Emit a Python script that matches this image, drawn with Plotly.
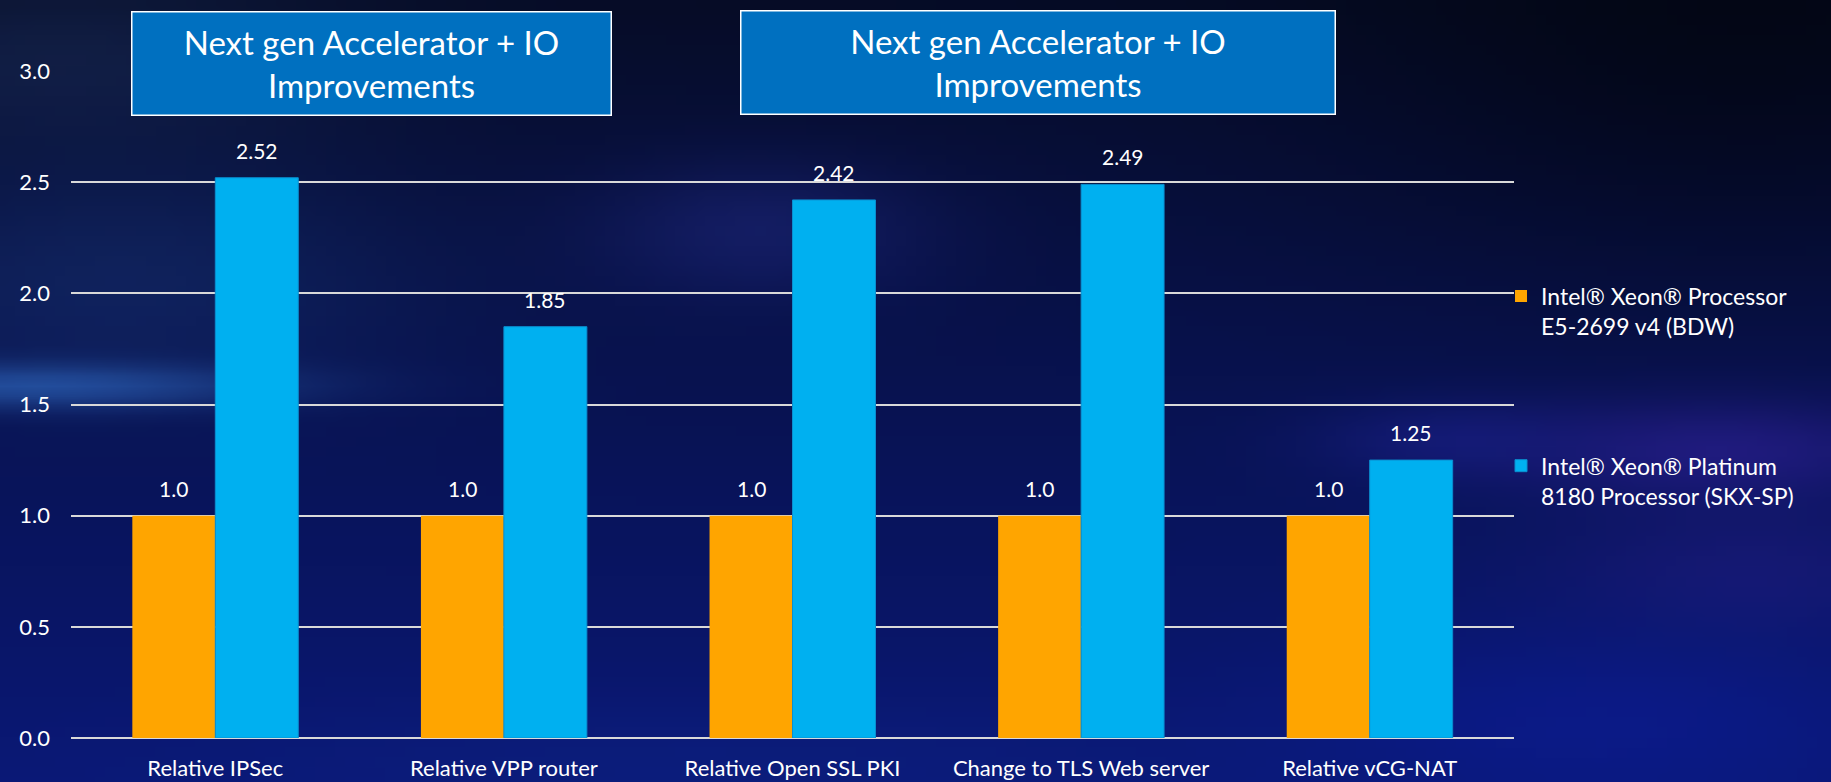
import base64
import struct
import zlib

import numpy as np
import plotly.graph_objects as go

# ---- data ----------------------------------------------------------------
categories = [
    "Relative IPSec",
    "Relative VPP router",
    "Relative Open SSL PKI",
    "Change to TLS Web server",
    "Relative vCG-NAT",
]
bdw_values = [1.0, 1.0, 1.0, 1.0, 1.0]
skx_values = [2.52, 1.85, 2.42, 2.49, 1.25]
series_names = [
    "Intel® Xeon® Processor<br>E5-2699 v4 (BDW)",
    "Intel® Xeon® Platinum<br>8180 Processor (SKX-SP)",
]
y_ticks = [0.0, 0.5, 1.0, 1.5, 2.0, 2.5, 3.0]
y_tick_text = ["0.0", "0.5", "1.0", "1.5", "2.0", "2.5", "3.0"]
banner_text = "Next gen Accelerator + IO<br>Improvements"

# ---- styling -------------------------------------------------------------
W, H = 1831, 782
M_L, M_R, M_T, M_B = 71, 317, 71, 44
PLOT_W = W - M_L - M_R
PLOT_H = H - M_T - M_B
FONT = "Lato"
ORANGE = "#FFA500"
BLUE = "#00B0F0"
BANNER = "#0070C0"
GRID = "#d9d9d9"
BARGAP = 0.425


def png_uri(rgb):
    """Encode an (h, w, 3) uint8 array as a PNG data URI."""
    h, w, _ = rgb.shape
    raw = b"".join(b"\x00" + rgb[r].tobytes() for r in range(h))

    def chunk(tag, data):
        body = tag + data
        return struct.pack(">I", len(data)) + body + struct.pack(">I", zlib.crc32(body) & 0xFFFFFFFF)

    png = b"\x89PNG\r\n\x1a\n"
    png += chunk(b"IHDR", struct.pack(">IIBBBBB", w, h, 8, 2, 0, 0, 0))
    png += chunk(b"IDAT", zlib.compress(raw, 9))
    png += chunk(b"IEND", b"")
    return "data:image/png;base64," + base64.b64encode(png).decode()


def backdrop():
    """Soft dark-blue slide backdrop with a few hazy glows."""
    gw, gh = 183, 78
    xs = (np.arange(gw) + 0.5) / gw * W
    ys = (np.arange(gh) + 0.5) / gh * H
    X, Y = np.meshgrid(xs, ys)
    t = (Y / H)[..., None]
    top = np.array([6, 12, 38], float)
    bottom = np.array([10, 24, 118], float)
    img = top + (bottom - top) * t ** 0.9
    # darker upper-right corner
    img *= (1 - 0.45 * np.exp(-(((X - 1750) / 420) ** 2 + ((Y - 40) / 230) ** 2)))[..., None]

    def glow(cx, cy, sx, sy, col, amp):
        g = amp * np.exp(-(((X - cx) / sx) ** 2 + ((Y - cy) / sy) ** 2))
        return g[..., None] * (np.array(col, float) - img)

    img += glow(40, 385, 230, 22, (50, 110, 200), 0.7)
    img += glow(120, 280, 300, 120, (25, 55, 120), 0.45)
    img += glow(60, 60, 300, 90, (30, 50, 95), 0.45)
    img += glow(760, 230, 170, 70, (35, 45, 140), 0.45)
    img += glow(1720, 450, 200, 50, (55, 35, 165), 0.5)
    img += glow(1450, 440, 140, 40, (30, 35, 150), 0.45)
    img += glow(1750, 570, 200, 70, (40, 30, 140), 0.4)
    img += glow(1600, 720, 300, 90, (12, 28, 150), 0.6)
    img += glow(700, 760, 500, 60, (14, 34, 130), 0.5)
    return np.clip(img, 0, 255).astype(np.uint8)


fig = go.Figure()
fig.add_trace(go.Bar(
    x=categories, y=bdw_values, name=series_names[0], legendgroup="bdw",
    marker=dict(color=ORANGE, line=dict(width=0)),
))
fig.add_trace(go.Bar(
    x=categories, y=skx_values, name=series_names[1], legendgroup="skx",
    marker=dict(color=BLUE, line=dict(width=1, color="#0a8fd0")),
))

# value labels above each bar, centred on the grouped bar positions
bar_w = (1 - BARGAP) / 2
annotations = []
for series, off in ((bdw_values, -bar_w / 2), (skx_values, bar_w / 2)):
    for i, v in enumerate(series):
        annotations.append(dict(
            x=i + off, y=v, xref="x", yref="y", text=str(v), showarrow=False,
            xanchor="center", yanchor="bottom", yshift=13,
            font=dict(family=FONT, size=21, color="white"),
        ))

# the two banner boxes above the chart
for cx, bw, cy in ((371, 478, 64), (1037.5, 593, 62.5)):
    annotations.append(dict(
        x=(cx - M_L) / PLOT_W, y=(H - M_B - cy) / PLOT_H, xref="paper", yref="paper",
        text=banner_text, showarrow=False, xanchor="center", yanchor="middle",
        width=bw, height=102, align="center", valign="middle",
        bgcolor=BANNER, bordercolor="white", borderwidth=1.5, borderpad=0,
        font=dict(family=FONT, size=33, color="white"),
    ))

fig.update_layout(
    width=W, height=H,
    margin=dict(l=M_L, r=M_R, t=M_T, b=M_B, pad=0, autoexpand=False),
    paper_bgcolor="#07103a",
    plot_bgcolor="rgba(0,0,0,0)",
    barmode="group", bargap=BARGAP, bargroupgap=0,
    font=dict(family=FONT, size=22, color="white"),
    annotations=annotations,
    images=[dict(
        source=png_uri(backdrop()), xref="paper", yref="paper",
        x=-M_L / PLOT_W, y=1 + M_T / PLOT_H, sizex=W / PLOT_W, sizey=H / PLOT_H,
        xanchor="left", yanchor="top", sizing="stretch", layer="below",
    )],
    legend=dict(
        x=0.991, xanchor="left", y=0.695, yanchor="top",
        font=dict(family=FONT, size=23, color="white"),
        bgcolor="rgba(0,0,0,0)", valign="top", tracegroupgap=107,
        itemwidth=30, traceorder="grouped",
    ),
    xaxis=dict(
        showgrid=False, showline=False, zeroline=False, ticks="",
        tickfont=dict(family=FONT, size=22, color="white"),
        ticklabelstandoff=15, automargin=False,
    ),
    yaxis=dict(
        range=[0, 3], tickvals=y_ticks, ticktext=y_tick_text,
        showgrid=True, gridcolor=GRID, gridwidth=2,
        zeroline=True, zerolinecolor=GRID, zerolinewidth=2,
        showline=False, ticks="",
        tickfont=dict(family=FONT, size=22, color="white"),
        ticklabelstandoff=20, automargin=False,
    ),
)

fig.write_html("out.html")
